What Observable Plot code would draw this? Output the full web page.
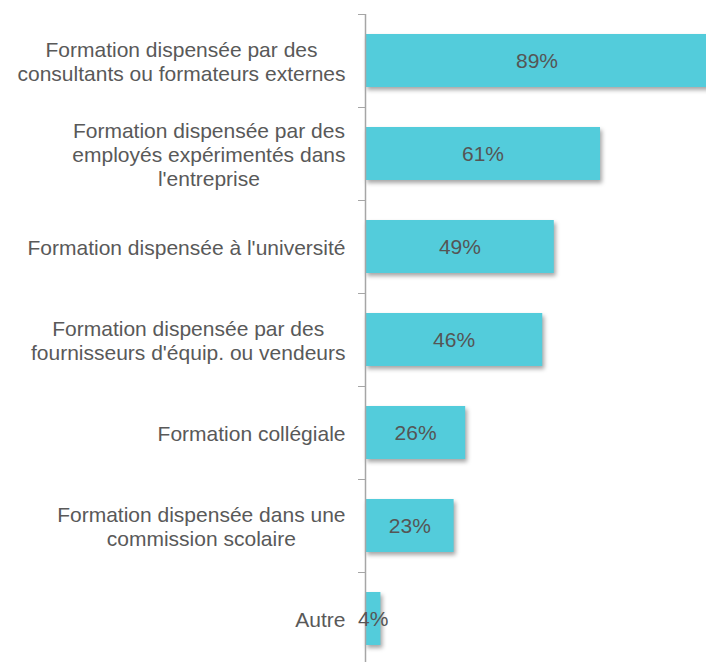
<!DOCTYPE html>
<html><head><meta charset="utf-8">
<script src="https://cdn.jsdelivr.net/npm/d3@7"></script>
<script src="https://cdn.jsdelivr.net/npm/@observablehq/plot@0.6"></script>
<style>
html,body{margin:0;padding:0;background:#fff;overflow:hidden}
g[aria-label="bar"] rect{filter:drop-shadow(2px 3px 2px rgba(0,0,0,0.35))}
</style></head><body><div id="chart"></div>
<script>
const categories = [
  "Formation dispensée par des\nconsultants ou formateurs externes",
  "Formation dispensée par des\nemployés expérimentés dans\nl'entreprise",
  "Formation dispensée à l'université",
  "Formation dispensée par des\nfournisseurs d'équip. ou vendeurs",
  "Formation collégiale",
  "Formation dispensée dans une\ncommission scolaire",
  "Autre"
];
const values = [89, 61, 49, 46, 26, 23, 4];
const valueLabels = values.map(v => v + "%");

const data = categories.map((c, i) => ({category: c, value: values[i], label: valueLabels[i]}));

const FONT = "'Liberation Sans', Arial, sans-serif";
const FS = 21;
const ctx = document.createElement("canvas").getContext("2d");
ctx.font = `${FS}px ${FONT}`;
const blockWidth = c => d3.max(c.split("\n"), l => ctx.measureText(l).width);

const labelMarks = data.map(d => Plot.text([d], {
  y: "category", text: "category", frameAnchor: "left", textAnchor: "middle",
  dx: -20 - blockWidth(d.category) / 2, lineHeight: 1.15,
  fill: "#595959", fontSize: FS
}));

const chart = Plot.plot({
  width: 706, height: 662,
  marginLeft: 365, marginRight: 0, marginTop: 14, marginBottom: -3,
  style: {fontFamily: FONT, background: "#fff"},
  x: {domain: [0, 88.5], axis: null},
  y: {domain: categories, paddingInner: 0.43, paddingOuter: 0.215},
  marks: [
    Plot.barX(data, {x: "value", y: "category", fill: "#53ccdb"}),
    Plot.ruleX([0], {stroke: "#a6a6a6", strokeWidth: 1.5}),
    Plot.axisY({tickSize: 7, tickFormat: () => "", dy: -46.5, stroke: "#a6a6a6", label: null}),
    ...labelMarks,
    Plot.text(data, {x: d => d.value / 2, y: "category", text: "label", fill: "#555", fontSize: FS})
  ]
});
document.getElementById("chart").appendChild(chart);
</script></body></html>
